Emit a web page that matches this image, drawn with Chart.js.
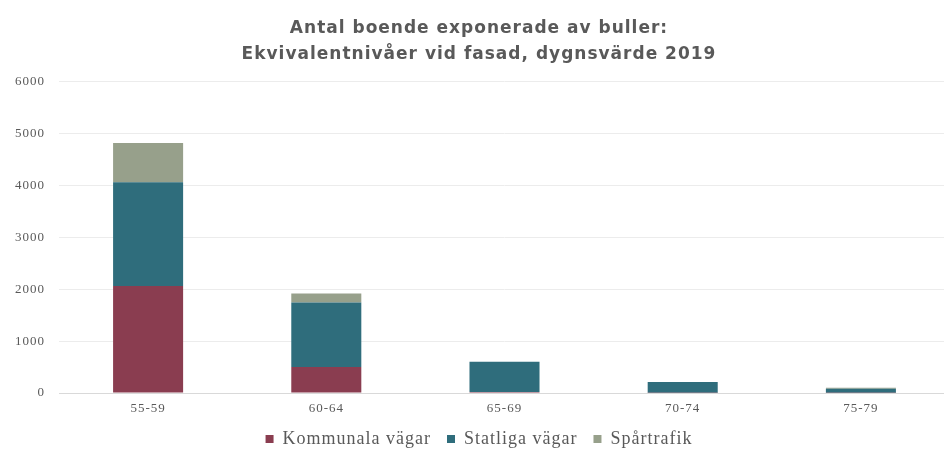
<!DOCTYPE html>
<html lang="sv">
<head>
  <meta charset="UTF-8">
  <title>Antal boende exponerade av buller</title>
  <style>
    html, body {
      margin: 0;
      padding: 0;
      background: #fff;
      overflow: hidden;
    }
    .chart-container {
      width: 952px;
      height: 450px;
    }
  </style>
  <script src="https://cdn.jsdelivr.net/npm/chart.js"></script>
</head>
<body>
  <div class="chart-container">
    <canvas id="bullerChart" width="952" height="450"></canvas>
  </div>

  <script>
    const kategorier = ['55-59', '60-64', '65-69', '70-74', '75-79'];
    const kommunalaVagar = [2060, 500, 20, 5, 5];
    const statligaVagar = [2000, 1245, 580, 205, 75];
    const spartrafik = [760, 175, 0, 0, 20];
    const yTicks = [0, 1000, 2000, 3000, 4000, 5000, 6000];

    const textFarg = '#595959';
    const serif = '"Liberation Serif", "Times New Roman", serif';

    // the source image has wide, loosely spaced text
    const sparrning = {
      id: 'sparrning',
      beforeUpdate: chart => { chart.ctx.letterSpacing = '1px'; },
      beforeLayout: chart => { chart.ctx.letterSpacing = '1px'; },
      beforeDraw: chart => { chart.ctx.letterSpacing = '1px'; }
    };

    const ctx = document.getElementById('bullerChart').getContext('2d');
    new Chart(ctx, {
      type: 'bar',
      data: {
        labels: kategorier,
        datasets: [
          { label: 'Kommunala vägar', data: kommunalaVagar, backgroundColor: '#8a3d50' },
          { label: 'Statliga vägar', data: statligaVagar, backgroundColor: '#2f6d7c' },
          { label: 'Spårtrafik', data: spartrafik, backgroundColor: '#97a08b' }
        ]
      },
      plugins: [sparrning],
      options: {
        responsive: false,
        animation: false,
        layout: { padding: { left: 8, right: 2, top: 15, bottom: -8 } },
        datasets: {
          bar: { categoryPercentage: 1, barPercentage: 0.393 }
        },
        plugins: {
          title: {
            display: true,
            text: ['Antal boende exponerade av buller:', 'Ekvivalentnivåer vid fasad, dygnsvärde 2019'],
            color: textFarg,
            font: { family: '"DejaVu Sans", sans-serif', size: 17, weight: 'bold', lineHeight: 1.55 },
            padding: { top: 0, bottom: 14 }
          },
          legend: {
            position: 'bottom',
            labels: {
              color: textFarg,
              font: { family: serif, size: 18 },
              boxWidth: 8,
              boxHeight: 8,
              padding: 16
            }
          },
          tooltip: { enabled: false }
        },
        scales: {
          x: {
            stacked: true,
            afterFit: scale => { scale.height = 21; },
            grid: { display: false, drawTicks: false },
            border: { color: '#d9d9d9' },
            ticks: { color: textFarg, font: { family: serif, size: 13 }, padding: 8 }
          },
          y: {
            stacked: true,
            min: 0,
            max: 6000,
            afterFit: scale => { scale.width = 51; },
            afterBuildTicks: scale => { scale.ticks = yTicks.map(v => ({ value: v })); },
            grid: { color: '#ececec', drawTicks: false },
            border: { display: false },
            ticks: {
              color: textFarg,
              font: { family: serif, size: 13 },
              padding: 14,
              callback: v => String(v)
            }
          }
        }
      }
    });
  </script>
</body>
</html>
